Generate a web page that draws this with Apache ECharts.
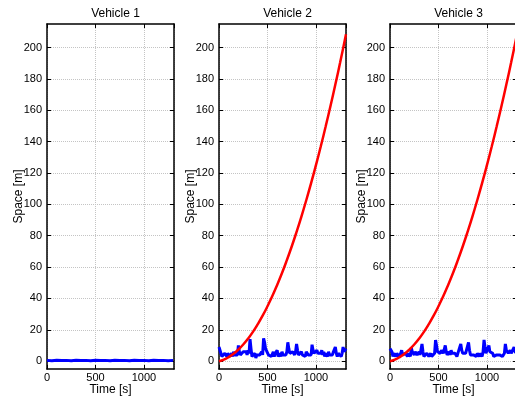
<!DOCTYPE html>
<html>
<head>
<meta charset="utf-8">
<script src="https://cdn.jsdelivr.net/npm/echarts@6/dist/echarts.min.js"></script>
<style>
  html, body { margin: 0; padding: 0; background: #fff; }
  #myChart { width: 515px; height: 398px; }
</style>
</head>
<body>
<div id="myChart"></div>
<script>
// panel titles and tick labels
const titles = ["Vehicle 1", "Vehicle 2", "Vehicle 3"];
const xTicks = [0, 500, 1000];
const yTicks = [0, 20, 40, 60, 80, 100, 120, 140, 160, 180, 200];

// red curve (vehicles 2 and 3), time in s
const redTime = [0, 50, 100, 150, 200, 250, 300, 350, 400, 450, 500, 550, 600, 650, 700,
  750, 800, 850, 900, 950, 1000, 1050, 1100, 1150, 1200, 1250, 1300, 1310];
const redSpace = [0, 1.0, 2.6, 4.7, 7.4, 10.6, 14.4, 18.7, 23.6, 29.0, 35.0, 41.5, 48.6, 56.2, 64.4,
  73.1, 82.4, 92.2, 102.6, 113.5, 125, 137, 149.6, 162.7, 176.4, 190.6, 205.4, 208.4];

// blue traces, sampled every 50 s (vehicle 1) and every 10 s (vehicles 2, 3)
const blueStep1 = 50;
const blue1 = [0.5, 0.3, 0.6, 0.4, 0.5, 0.3, 0.6, 0.4, 0.5, 0.3, 0.6, 0.4, 0.5, 0.3,
  0.6, 0.4, 0.5, 0.3, 0.6, 0.4, 0.5, 0.3, 0.6, 0.4, 0.5, 0.3, 0.5];
const blueStep = 10;
const blue2 = [9, 10, 8,
  3, 4, 2, 5,
  4, 3, 5, 6, 3, 4, 5, 3, 6, 4, 5, 3, 4,
  10, 6,
  4, 5, 3, 6, 5,
  5, 6, 4, 7, 5,
  14, 8,
  3, 4, 3, 5, 2, 4, 3, 5, 4, 3, 6, 4,
  14.5, 12, 8,
  7, 8,
  4, 3, 5, 3, 4, 6, 3, 5, 4, 7, 3, 4, 5, 3, 6, 4, 3, 5, 4, 6,
  12, 8,
  5, 6, 4, 6, 5, 4, 6,
  11, 7,
  4, 5, 3, 6, 4, 5, 4, 3, 6, 5, 4, 5, 3, 4,
  10.5, 7,
  5, 6, 4, 7, 5, 6, 4, 5, 7, 4, 6,
  3, 5, 4, 3, 6, 4, 5, 3, 4, 6, 5,
  9, 5,
  3, 5, 4, 6, 3, 5,
  9, 6, 5, 8];
const blue3 = [8, 7, 6,
  3, 5, 4, 3, 5, 4, 3, 4, 5,
  7, 4,
  4, 3, 5, 4, 3, 5, 4, 3,
  8.5, 6,
  5, 4, 6, 5, 4, 5, 6, 4, 5,
  11, 6,
  3, 4, 3, 5, 4, 3, 4, 5, 3, 4, 3, 5,
  13.5, 10,
  6, 7, 6, 5, 7, 6, 5, 4,
  10, 6,
  4, 5, 6, 4, 7, 5, 4, 6, 5, 4, 3, 5, 4, 6,
  11, 7,
  5, 4, 6, 5, 4, 5,
  12, 7,
  4, 5, 3, 4, 5, 4, 3, 5, 4, 3, 5, 4, 3, 6,
  13.5, 9,
  5, 7, 6, 10, 6, 5, 7, 5,
  3, 4, 3, 4, 3, 5, 4, 3, 4, 3, 4, 5,
  11, 7,
  6, 5, 6, 7, 5, 6, 5,
  9, 6, 7, 5];

const xMax = 1310;
const yMin = -5;
const yMax = 215;

function pairs(times, values) {
  return values.map((v, i) => [times[i], v]);
}
function stepPairs(step, values) {
  return values.map((v, i) => [i * step, v]);
}

const font = "Liberation Sans, Arial, sans-serif";
const lefts = [47, 219, 390];
const plotW = 127;
const plotTop = 24;
const plotH = 345;

let myChart = echarts.init(document.getElementById('myChart'), null, { renderer: 'canvas' });

let grid = [], xAxis = [], yAxis = [], title = [], series = [];
const lineStyle = { color: '#000', width: 1.5 };
const tickStyle = { show: true, inside: true, length: 4, lineStyle: { color: '#000', width: 1 } };
const gridLine = { show: true, lineStyle: { color: '#c4c4c4', type: 'dotted', width: 1 } };

for (let p = 0; p < 3; p++) {
  grid.push({ left: lefts[p], top: plotTop, width: plotW, height: plotH,
    containLabel: false, outerBoundsMode: 'none' });
  title.push({
    text: titles[p], left: lefts[p] + plotW / 2, top: 3, textAlign: 'center',
    textStyle: { fontFamily: font, fontSize: 12, fontWeight: 'normal', color: '#000' }
  });
  // bottom x axis
  xAxis.push({
    type: 'value', gridIndex: p, min: 0, max: xMax, interval: 500, position: 'bottom',
    name: 'Time [s]', nameLocation: 'middle', nameGap: 15, nameMoveOverlap: false,
    nameTextStyle: { fontFamily: font, fontSize: 12, color: '#000' },
    axisLine: { show: true, onZero: false, lineStyle: lineStyle },
    axisTick: tickStyle,
    axisLabel: { fontFamily: font, fontSize: 11, color: '#000', margin: 3,
      showMaxLabel: false, hideOverlap: false, formatter: v => String(v) },
    splitLine: gridLine
  });
  // top x axis (box + ticks)
  xAxis.push({
    type: 'value', gridIndex: p, min: 0, max: xMax, interval: 500, position: 'top',
    axisLine: { show: true, onZero: false, lineStyle: lineStyle },
    axisTick: tickStyle, axisLabel: { show: false }, splitLine: { show: false }
  });
  // left y axis
  yAxis.push({
    type: 'value', gridIndex: p, min: yMin, max: yMax, position: 'left',
    name: 'Space [m]', nameLocation: 'middle', nameGap: 22, nameMoveOverlap: false,
    nameTextStyle: { fontFamily: font, fontSize: 12, color: '#000' },
    axisLine: { show: true, onZero: false, lineStyle: lineStyle },
    axisTick: Object.assign({}, tickStyle, { customValues: yTicks }),
    axisLabel: { fontFamily: font, fontSize: 11, color: '#000', margin: 5, customValues: yTicks },
    splitLine: gridLine
  });
  // right y axis (box + ticks)
  yAxis.push({
    type: 'value', gridIndex: p, min: yMin, max: yMax, position: 'right',
    axisLine: { show: true, onZero: false, lineStyle: lineStyle },
    axisTick: Object.assign({}, tickStyle, { customValues: yTicks }),
    axisLabel: { show: false }, splitLine: { show: false }
  });
}

const blueData = [stepPairs(blueStep1, blue1), stepPairs(blueStep, blue2), stepPairs(blueStep, blue3)];
for (let p = 0; p < 3; p++) {
  series.push({
    type: 'line', xAxisIndex: p * 2, yAxisIndex: p * 2, data: blueData[p],
    showSymbol: false, symbol: 'none', animation: false,
    lineStyle: { color: '#0000ff', width: 3 }, z: 3
  });
  if (p > 0) {
    series.push({
      type: 'line', xAxisIndex: p * 2, yAxisIndex: p * 2, data: pairs(redTime, redSpace),
      showSymbol: false, symbol: 'none', smooth: true, animation: false,
      lineStyle: { color: '#ff0000', width: 2.5 }, z: 4
    });
  }
}

let option = { animation: false, title: title, grid: grid, xAxis: xAxis, yAxis: yAxis, series: series };
myChart.setOption(option);

window.addEventListener("resize", () => {
  myChart.resize();
});
</script>
</body>
</html>
